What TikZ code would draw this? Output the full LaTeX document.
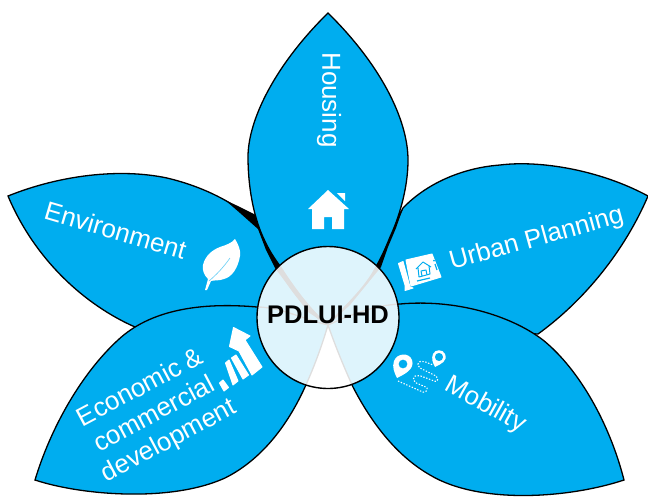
\documentclass[tikz,border=0pt]{standalone}
\usepackage{fontspec}
\setmainfont{Liberation Sans}
\definecolor{petalblue}{RGB}{0,173,239}
\tikzset{
  petal/.style={fill=petalblue,draw=black,line width=1.3pt,line join=miter},
  lbl/.style={text=white,font=\fontsize{26}{30}\selectfont,align=center,inner sep=0pt},
  ico/.style={fill=white,draw=white,line width=1pt,line join=round},
  dots/.style={draw=white,line width=1.1pt,dash pattern=on 1.4pt off 1.6pt,fill=none,rounded corners=2pt}
}
\begin{document}
\begin{tikzpicture}[x=1pt,y=-1pt]
\useasboundingbox (0,0) rectangle (648,496);
\fill[white] (0,0) rectangle (648,496);
\coordinate (O) at (328,325);
% upper left
\draw[petal] (8,196) .. controls (60,175) and (120,168) .. (167,178) .. controls (205,187) and (240,205) .. (260,227) .. controls (268,245) and (270,252) .. (278,268) .. controls (290,290) and (310,315) .. (O) -- (135,327) .. controls (85,305) and (35,260) .. (8,196) -- cycle;
% upper right
\draw[petal] (648,196) .. controls (600,170) and (540,160) .. (500,165) .. controls (460,168) and (425,185) .. (403,208) .. controls (396,222) and (388,245) .. (379,265) .. controls (365,290) and (340,310) .. (O) -- (538,334) .. controls (585,300) and (625,250) .. (648,196) -- cycle;
% lower left
\draw[petal] (O) .. controls (300,318) and (280,307) .. (257,307) .. controls (200,302) and (150,310) .. (118,340) .. controls (80,375) and (50,430) .. (35,480) .. controls (80,495) and (170,503) .. (225,478) .. controls (265,458) and (290,420) .. (305,387) .. controls (315,365) and (322,345) .. (O) -- cycle;
% lower right
\draw[petal] (O) .. controls (350,315) and (375,305) .. (400,304) .. controls (455,299) and (510,315) .. (543,340) .. controls (580,370) and (610,425) .. (624,480) .. controls (570,498) and (480,505) .. (430,475) .. controls (395,455) and (370,420) .. (353,387) .. controls (343,365) and (335,345) .. (O) -- cycle;
% black wedges between the petals
\fill[black] (225,200) -- (240,207) -- (256,215) -- (263,237) -- (281,264) -- (312,308) -- (328,325) -- (308,312) -- (275,268) -- (266,250) -- (258,229) -- (240,213) -- cycle;
\fill[black] (403,208) -- (396,228) -- (388,247) -- (381,267) -- (350,305) -- (328,325) -- (340,303) -- (372,265) -- (384,245) -- (390,228) -- (400,212) -- cycle;
% top
\draw[petal] (O) .. controls (310,310) and (292,285) .. (280,266) .. controls (272,255) and (268,248) .. (263,237) .. controls (253,215) and (248,185) .. (248,157) .. controls (248,120) and (275,65) .. (328,13) .. controls (381,65) and (408,120) .. (408,160) .. controls (408,190) and (398,220) .. (390,237) .. controls (386,247) and (382,256) .. (377,265) .. controls (365,290) and (340,310) .. (O) -- cycle;
% centre
\fill[white,opacity=.87] (328,317.5) circle[radius=71pt];
\node[circle,draw=black,line width=1.4pt,minimum size=142pt,inner sep=0pt] (hub) at (328,317.5) {};
\node[inner sep=0pt,font=\bfseries\fontsize{25.5}{30}\selectfont] (hubtext) at (328,314.5) {PDLUI-HD};
% labels
\node[lbl,rotate=-90] (housing) at (329,100) {Housing};
\node[lbl,rotate=15.5,anchor=base] (urban) at (538.5,246) {Urban Planning};
\node[lbl,rotate=-29,anchor=base] (mobility) at (482,411) {Mobility};
\node[lbl,rotate=-16.4,anchor=base] (env) at (113,239) {Environment};
\node[lbl,rotate=28] (econ) at (155,415) {Economic \&\\commercial\\development};
% house icon
\fill[white,line join=round] (308,209) -- (328,190) -- (349,209) -- (344,209) -- (344,229) -- (332,229) -- (332,217) -- (324,217) -- (324,229) -- (312,229) -- (312,209) -- cycle;
\fill[white] (337,193) -- (345,193) -- (345,201) -- cycle;
% leaf
\fill[white] (235,239) .. controls (238,244) and (241,250) .. (240,256) .. controls (238,268) and (232,277) .. (224,279) .. controls (219,281) and (214,280) .. (211,281) -- (207,290) -- (205,290) -- (208,279) .. controls (204,275) and (202,270) .. (203,265) .. controls (205,256) and (212,250) .. (220,247) .. controls (226,245) and (232,243) .. (235,239) -- cycle;
\draw[petalblue!60!white,line width=.6pt] (209,281) .. controls (216,275) and (223,268) .. (230,258);
% chart icon
\fill[ico] (233.5,327.5) -- (250,336) -- (245,340) -- (262,367) -- (252,375) -- (239,351) -- (229.5,346.5) -- cycle;
\fill[ico] (231.5,358) -- (236,355) -- (248.5,375) -- (243,379) -- cycle;
\fill[ico] (225.5,363) -- (229,360) -- (238,381) -- (233,385) -- cycle;
\fill[ico] (219.5,383) -- (223,380) -- (228.5,387.5) -- (224,391) -- cycle;
% plan icon
\fill[ico] (398.5,263.5) -- (403,261.5) -- (410,287) -- (413,288) -- (405,290.5) -- (405,285) -- cycle;
\fill[ico] (406,260) -- (432,254) -- (441,277) -- (411,286) -- cycle;
\draw[petalblue,line width=1pt,line join=round] (416,269) -- (423,262) -- (431,267) (418,268) -- (419,277) -- (430,274) -- (429,266) (422,276) -- (421,271) -- (426,270) -- (427,275);
\fill[petalblue] (434,260.5) circle[radius=1pt];
\draw[petalblue,line width=1.2pt] (435,264) -- (437,270) (417,281) -- (430,278);
% mobility icon
\fill[white,even odd rule] (397,378) .. controls (394,372) and (392,367) .. (394,361) .. controls (397,353) and (409,352) .. (412,360) .. controls (415,369) and (405,374) .. (397,378) -- cycle (403,364) circle[radius=4.5pt];
\fill[white,even odd rule] (435,367) .. controls (433,363) and (431,359) .. (433,354) .. controls (435,349) and (443,349) .. (445,354) .. controls (448,361) and (441,364) .. (435,367) -- cycle (439,357) circle[radius=4.2pt];
\draw[dots] (398,381) -- (425,393) -- (428,388) -- (414,382) -- (413,377) -- (418,375) -- (437,382) -- (438,377) -- (418,367) -- (418,362) -- (423,361) -- (433,365);
\end{tikzpicture}
\end{document}
